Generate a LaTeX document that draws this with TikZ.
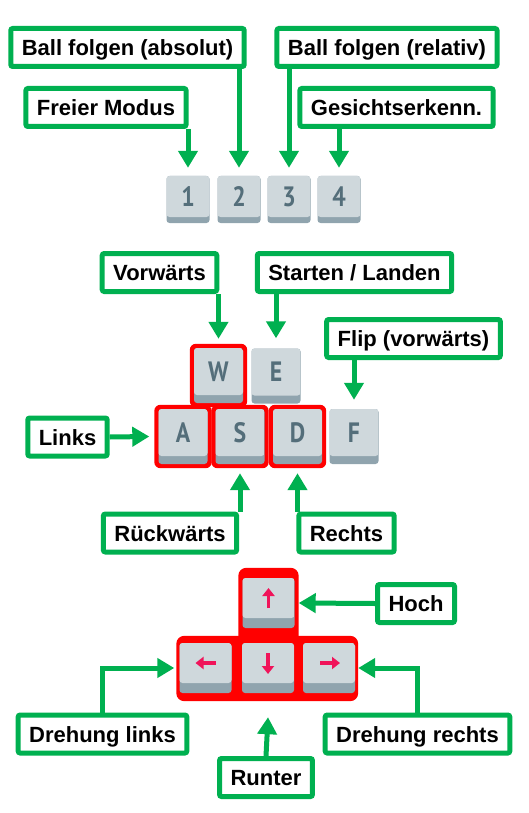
\documentclass[tikz,border=0pt]{standalone}
\usepackage{fontspec}
\setmainfont{Liberation Sans}
\newfontfamily\tastenschrift[FakeStretch=0.85]{PT Sans}
\usetikzlibrary{arrows.meta,backgrounds}
\definecolor{HinweisGruen}{RGB}{0,176,80}
\definecolor{TastenFlaeche}{RGB}{207,216,220}
\definecolor{TastenSchatten}{RGB}{144,164,174}
\definecolor{TastenText}{RGB}{84,110,122}
\definecolor{MarkierRot}{RGB}{255,0,0}
\definecolor{PfeilRosa}{RGB}{240,20,90}
\tikzset{
  taste/.style={fill=TastenSchatten, rounded corners=3pt, inner sep=0pt,
                font=\tastenschrift\bfseries\fontsize{28}{32}\selectfont, text=TastenText,
                text height=19pt, text depth=#1,
                path picture={\fill[TastenFlaeche, rounded corners=3pt]
                  (path picture bounding box.north west) rectangle
                  ([yshift=#1]path picture bounding box.south east);}},
  zifferntaste/.style={taste=6pt, minimum width=43pt, minimum height=47pt},
  buchstabentaste/.style={taste=8pt, minimum width=49pt, minimum height=55pt},
  pfeiltaste/.style={taste=10pt, minimum width=52pt, minimum height=50pt},
  markiert/.style={fill=MarkierRot, rounded corners=6pt},
  hinweis/.style={draw=HinweisGruen, line width=5pt, fill=white, rounded corners=2pt,
                  font=\bfseries\fontsize{22}{26}\selectfont, inner xsep=11pt, inner ysep=0pt,
                  minimum height=38pt, text height=16pt, text depth=0pt},
  pfeil/.style={draw=HinweisGruen, line width=5pt, -{Triangle[length=17pt,width=19pt]}},
  tastensymbol/.style={draw=PfeilRosa, line width=3.5pt, -{Triangle[length=8pt,width=12pt]}},
}
\begin{document}
\begin{tikzpicture}[x=1pt, y=-1pt]
  \useasboundingbox (0,0) rectangle (529,813);

  % Modi: Zifferntasten
  \foreach \n/\x in {1/188, 2/239, 3/289, 4/339}
    \node[zifferntaste] (k\n) at (\x,199.5) {\n};
  \node[hinweis] (lAbs)  at (127.5,47.5)  {Ball folgen (absolut)};
  \node[hinweis] (lFrei) at (106,107.5)   {Freier Modus};
  \node[hinweis] (lRel)  at (387,47.5)    {Ball folgen (relativ)};
  \node[hinweis] (lGes)  at (396.5,107.5) {Gesichtserkenn.};
  \draw[pfeil] (lFrei.south -| k1) -- ([yshift=8pt]k1.north);
  \draw[pfeil] (lAbs.south -| k2)  -- ([yshift=8pt]k2.north);
  \draw[pfeil] (lRel.south -| k3)  -- ([yshift=8pt]k3.north);
  \draw[pfeil] (lGes.south -| k4)  -- ([yshift=8pt]k4.north);

  % Bewegung: WASD
  \node[buchstabentaste] (kW) at (218.5,375.5) {W};
  \node[buchstabentaste] (kE) at (276,376)     {E};
  \node[buchstabentaste] (kA) at (183,436.5)   {A};
  \node[buchstabentaste] (kS) at (240,436.5)   {S};
  \node[buchstabentaste] (kD) at (297.5,436.5) {D};
  \node[buchstabentaste] (kF) at (354,436.5)   {F};
  \node[hinweis] (lVor)    at (159.5,272.5) {Vorwärts};
  \node[hinweis] (lStart)  at (354.5,272.5) {Starten / Landen};
  \node[hinweis] (lFlip)   at (413.5,338.5) {Flip (vorwärts)};
  \node[hinweis] (lLinks)  at (67.5,437)    {Links};
  \node[hinweis] (lRueck)  at (170,533)     {Rückwärts};
  \node[hinweis] (lRechts) at (346.5,533)   {Rechts};
  \draw[pfeil] (lVor.south -| kW)    -- ([yshift=9pt]kW.north);
  \draw[pfeil] (lStart.south -| kE)  -- ([yshift=10pt]kE.north);
  \draw[pfeil] (lFlip.south -| kF)   -- ([yshift=9pt]kF.north);
  \draw[pfeil] (lLinks.east)         -- ([xshift=-9pt]kA.west);
  \draw[pfeil] (lRueck.north -| kS)  -- ([yshift=-9pt]kS.south);
  \draw[pfeil] (lRechts.north -| kD) -- ([yshift=-9pt]kD.south);

  % Flughöhe und Drehung: Pfeiltasten
  \node[pfeiltaste] (kUp)    at (268.5,603) {};
  \node[pfeiltaste] (kLeft)  at (205.5,668) {};
  \node[pfeiltaste] (kDown)  at (268,668)   {};
  \node[pfeiltaste] (kRight) at (329,668)   {};
  \draw[tastensymbol] ([yshift=-5pt]kUp.center) -- ([yshift=15pt]kUp.center);
  \draw[tastensymbol] ([shift={(10pt,5pt)}]kLeft.center) -- ([shift={(-10pt,5pt)}]kLeft.center);
  \draw[tastensymbol] ([yshift=15pt]kDown.center) -- ([yshift=-6pt]kDown.center);
  \draw[tastensymbol] ([shift={(-9pt,5pt)}]kRight.center) -- ([shift={(11pt,5pt)}]kRight.center);
  \node[hinweis] (lHoch)   at (416,603.5)   {Hoch};
  \node[hinweis] (lDreL)   at (102.5,734)   {Drehung links};
  \node[hinweis] (lDreR)   at (417.5,734)   {Drehung rechts};
  \node[hinweis] (lRunter) at (266,777.5)   {Runter};
  \draw[pfeil] (lHoch.west)  -- ([xshift=4pt]kUp.east);
  \draw[pfeil] (lDreL.north) |- ([xshift=-5pt]kLeft.west);
  \draw[pfeil] (lDreR.north) |- ([xshift=3pt]kRight.east);
  \draw[pfeil] (lRunter.north) -- ([yshift=-24pt]kDown.south);

  % rote Markierungen hinter den Tasten
  \begin{scope}[on background layer]
    \foreach \t in {kW, kA, kS, kD}
      \fill[markiert] ([shift={(-4pt,4pt)}]\t.north west) rectangle ([shift={(4pt,-4pt)}]\t.south east);
    \fill[markiert, rounded corners=8pt] ([shift={(-4pt,10pt)}]kUp.north west)
      rectangle ([shift={(4pt,-20pt)}]kUp.south east);
    \fill[markiert, rounded corners=8pt] ([shift={(-3pt,7pt)}]kLeft.north west)
      rectangle ([shift={(3pt,-8pt)}]kRight.south east);
  \end{scope}
\end{tikzpicture}
\end{document}
